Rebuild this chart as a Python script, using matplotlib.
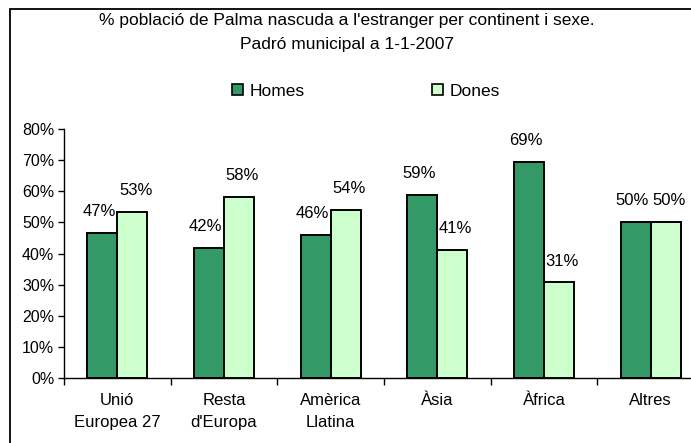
import matplotlib
matplotlib.use("Agg")
import matplotlib.pyplot as plt
import numpy as np
from matplotlib.patches import Rectangle, Patch
from matplotlib.ticker import FuncFormatter, FixedLocator

plt.rcParams['font.family'] = ['Liberation Sans', 'DejaVu Sans']

categories = ["Unió\nEuropea 27", "Resta\nd'Europa", "Amèrica\nLlatina", "Àsia", "Àfrica", "Altres"]
homes = [46.7, 41.7, 46.1, 58.9, 69.3, 50.0]
dones = [53.3, 58.3, 53.9, 41.1, 30.7, 50.0]
series_names = ["Homes", "Dones"]
yticks = [0, 10, 20, 30, 40, 50, 60, 70, 80]

W, H = 691, 443
fig = plt.figure(figsize=(W / 100, H / 100), dpi=100)

# outer frame (right/bottom edges cropped in the reference)
fig.patches.append(Rectangle((10 / W, -0.1), 1.2, 1 - 9 / H + 0.1, transform=fig.transFigure,
                             fill=False, edgecolor='black', lw=1.3, clip_on=False))

ax = fig.add_axes([64 / W, 65 / H, 640 / W, 249 / H])
ax.patch.set_alpha(0)

x = np.arange(len(categories))
bw = 0.28
c_h = '#339966'
c_d = '#CCFFCC'
b1 = ax.bar(x - bw / 2, homes, bw, color=c_h, edgecolor='black', lw=1.4, zorder=3)
b2 = ax.bar(x + bw / 2, dones, bw, color=c_d, edgecolor='black', lw=1.4, zorder=3)

for bars, vals, dx in ((b1, homes, -2.5), (b2, dones, 2.5)):
    for r, v in zip(bars, vals):
        ax.annotate(f"{round(v):d}%", (r.get_x() + r.get_width() / 2, r.get_height()),
                    xytext=(dx, 10), textcoords='offset points', ha='center', va='bottom',
                    fontsize=12)

ax.set_xlim(-0.5, len(categories) - 0.5)
ax.set_ylim(0, 80)
ax.set_yticks(yticks)
ax.yaxis.set_major_formatter(FuncFormatter(lambda v, p: f"{int(v)}%"))
ax.tick_params(axis='y', direction='out', length=4, width=1, labelsize=11.5, pad=3)

ax.set_xticks(x)
ax.set_xticklabels(categories, fontsize=12, linespacing=1.6)
ax.tick_params(axis='x', which='major', length=0, pad=11)
ax.xaxis.set_minor_locator(FixedLocator(np.arange(len(categories) + 1) - 0.5))
ax.tick_params(axis='x', which='minor', direction='out', length=5, width=1)

for s in ('top', 'right'):
    ax.spines[s].set_visible(False)
for s in ('left', 'bottom'):
    ax.spines[s].set_linewidth(1)
    ax.spines[s].set_color('black')

fig.text(347 / W, 1 - 20 / H, "% població de Palma nascuda a l'estranger per continent i sexe.",
         ha='center', va='center', fontsize=12.5)
fig.text(347 / W, 1 - 45 / H, "Padró municipal a 1-1-2007", ha='center', va='center', fontsize=12.5)

handles = [Patch(facecolor=c_h, edgecolor='black', lw=1.2),
           Patch(facecolor=c_d, edgecolor='black', lw=1.2)]
fig.legend(handles, series_names, loc='center', bbox_to_anchor=(366 / W, 1 - 91 / H), ncol=2,
           frameon=False, fontsize=12.5, handlelength=0.65, handleheight=0.65, handletextpad=0.4,
           columnspacing=7.3)

fig.savefig("out.png", dpi=100)
